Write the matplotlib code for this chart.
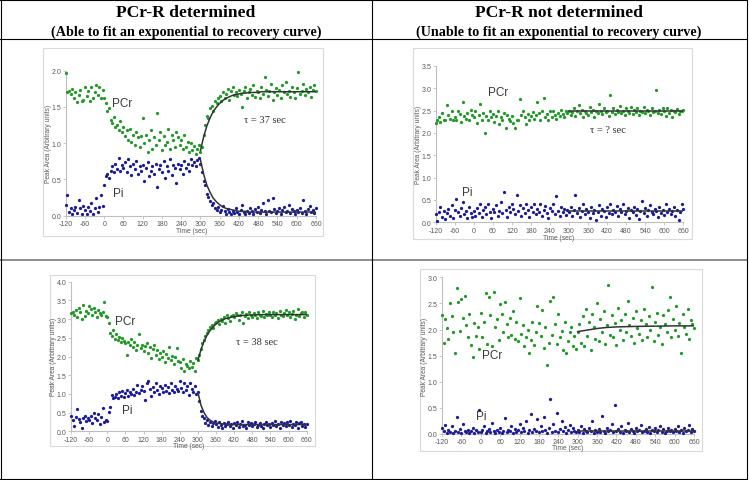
import numpy as np
import matplotlib
matplotlib.use("Agg")
import matplotlib.pyplot as plt
from matplotlib.lines import Line2D
from matplotlib.patches import Rectangle

plt.rcParams["axes.unicode_minus"] = False

# sample times (sec), one reading every 5 s
t = np.arange(-120, 661, 5)
xticks = list(range(-120, 661, 60))

# ---- top left: PCr-R determined, tau = 37 sec
tl_pcr = [1.97, 1.70, 1.72, 1.68, 1.75, 1.62, 1.70, 1.57, 1.66, 1.73, 1.58, 1.60,
          1.78, 1.65, 1.72, 1.58, 1.77, 1.62, 1.70, 1.80, 1.66, 1.78, 1.62, 1.74,
          1.62, 1.55, 1.45, 1.48, 1.32, 1.28, 1.36, 1.22, 1.25, 1.18, 1.30, 1.15,
          1.22, 1.10, 1.18, 1.05, 1.20, 1.02, 1.12, 0.98, 1.15, 1.08, 0.95, 1.10,
          1.35, 1.00, 1.12, 0.88, 1.05, 1.18, 0.92, 1.08, 0.98, 1.42, 1.05, 1.15,
          0.90, 1.10, 0.98, 1.02, 1.20, 0.92, 1.12, 1.05, 0.95, 1.15, 1.08, 0.98,
          1.05, 0.92, 1.12, 0.95, 1.02, 0.88, 1.00, 0.90, 0.96, 0.85, 0.92, 0.98,
          0.88, 0.95, 1.12, 1.25, 1.38, 1.35, 1.48, 1.52, 1.45, 1.58, 1.55, 1.62,
          1.65, 1.58, 1.70, 1.62, 1.68, 1.75, 1.60, 1.72, 1.78, 1.66, 1.70, 1.65,
          1.74, 1.68, 1.50, 1.72, 1.78, 1.62, 1.70, 1.75, 1.66, 1.80, 1.64, 1.72,
          1.70, 1.62, 1.78, 1.68, 1.92, 1.74, 1.65, 1.72, 1.82, 1.60, 1.70, 1.76,
          1.66, 1.74, 1.62, 1.80, 1.70, 1.85, 1.68, 1.72, 1.64, 1.78, 1.70, 1.62,
          1.76, 1.98, 1.68, 1.72, 1.82, 1.66, 1.75, 1.70, 1.78, 1.64, 1.73, 1.80,
          1.72]
tl_pi = [0.15, 0.28, 0.05, 0.10, 0.02, 0.08, 0.12, 0.04, 0.22, 0.10, 0.03, 0.14,
         0.08, 0.02, 0.12, 0.06, 0.18, 0.03, 0.10, 0.25, 0.05, 0.12, 0.28, 0.14,
         0.42, 0.55, 0.58, 0.52, 0.62, 0.68, 0.60, 0.72, 0.65, 0.80, 0.62, 0.70,
         0.66, 0.74, 0.60, 0.78, 0.68, 0.56, 0.72, 0.64, 0.76, 0.58, 0.68, 0.62,
         0.70, 0.48, 0.66, 0.74, 0.55, 0.62, 0.68, 0.58, 0.72, 0.40, 0.64, 0.70,
         0.60, 0.76, 0.52, 0.68, 0.62, 0.78, 0.56, 0.70, 0.66, 0.45, 0.72, 0.64,
         0.70, 0.58, 0.76, 0.66, 0.72, 0.62, 0.78, 0.70, 0.74, 0.68, 0.77, 0.80,
         0.72, 0.60, 0.48, 0.42, 0.30, 0.26, 0.20, 0.15, 0.18, 0.10, 0.08, 0.12,
         0.05, 0.08, 0.14, 0.06, 0.03, 0.09, 0.05, 0.02, 0.07, 0.04, 0.10, 0.05,
         0.03, 0.08, 0.15, 0.05, 0.02, 0.07, 0.04, 0.10, 0.06, 0.03, 0.09, 0.05,
         0.12, 0.04, 0.08, 0.18, 0.06, 0.03, 0.22, 0.07, 0.05, 0.24, 0.09, 0.04,
         0.06, 0.10, 0.03, 0.08, 0.12, 0.05, 0.07, 0.15, 0.04, 0.09, 0.06, 0.02,
         0.08, 0.05, 0.11, 0.04, 0.22, 0.07, 0.03, 0.09, 0.14, 0.05, 0.08, 0.04,
         0.10]

# fitted recovery curves, read every 10 s from 300 to 660
fit_t = list(range(300, 661, 10))
tl_pcr_fit = [0.90, 1.09, 1.24, 1.35, 1.44, 1.50, 1.55, 1.59, 1.62, 1.64, 1.66, 1.67,
              1.68, 1.69, 1.69, 1.70, 1.70, 1.70, 1.70] + [1.71] * 18
tl_pi_fit = [0.77, 0.57, 0.42, 0.32, 0.24, 0.19, 0.15, 0.12, 0.10, 0.09, 0.08, 0.07,
             0.06, 0.06, 0.06] + [0.05] * 22

# ---- top right: PCr-R not determined
tr_pcr = [2.22, 2.28, 2.35, 2.25, 2.45, 2.30, 2.28, 2.62, 2.40, 2.32, 2.50, 2.28,
          2.35, 2.30, 2.48, 2.42, 2.25, 2.70, 2.38, 2.32, 2.45, 2.28, 2.52, 2.40,
          2.35, 2.48, 2.22, 2.40, 2.65, 2.30, 2.45, 2.00, 2.38, 2.28, 2.50, 2.35,
          2.42, 2.25, 2.38, 2.48, 2.20, 2.36, 2.30, 2.45, 2.12, 2.40, 2.32, 2.26,
          2.38, 2.22, 2.10, 2.30, 2.28, 2.75, 2.40, 2.48, 2.35, 2.20, 2.42, 2.30,
          2.38, 2.46, 2.32, 2.40, 2.70, 2.45, 2.28, 2.50, 2.78, 2.36, 2.42, 2.30,
          2.48, 2.35, 2.50, 2.40, 2.32, 2.45, 2.38, 2.52, 2.42, 2.36, 2.48, 2.44,
          2.50, 2.40, 2.46, 2.55, 2.38, 2.48, 2.62, 2.44, 2.52, 2.36, 2.50, 2.45,
          2.40, 2.58, 2.46, 2.52, 2.35, 2.50, 2.44, 2.65, 2.48, 2.42, 2.55, 2.46,
          2.50, 2.38, 2.84, 2.47, 2.55, 2.42, 2.52, 2.46, 2.60, 2.44, 2.50, 2.40,
          2.56, 2.48, 2.45, 2.58, 2.42, 2.52, 2.46, 2.55, 2.40, 2.50, 2.47, 2.58,
          2.44, 2.52, 2.48, 2.40, 2.56, 2.46, 2.50, 2.97, 2.45, 2.52, 2.42, 2.55,
          2.48, 2.38, 2.56, 2.44, 2.52, 2.35, 2.50, 2.46, 2.54, 2.42, 2.50, 2.48,
          2.52]
tr_pi = [0.18, 0.02, 0.22, 0.35, 0.12, 0.25, 0.08, 0.20, 0.30, 0.15, 0.38, 0.10,
         0.28, 0.52, 0.22, 0.14, 0.32, 0.45, 0.18, 0.26, 0.10, 0.35, 0.20, 0.12,
         0.25, 0.15, 0.32, 0.20, 0.40, 0.12, 0.28, 0.35, 0.18, 0.42, 0.22, 0.10,
         0.30, 0.24, 0.38, 0.15, 0.26, 0.45, 0.20, 0.68, 0.28, 0.12, 0.35, 0.22,
         0.42, 0.30, 0.18, 0.60, 0.25, 0.38, 0.15, 0.32, 0.20, 0.42, 0.28, 0.12,
         0.35, 0.24, 0.40, 0.18, 0.30, 0.22, 0.42, 0.15, 0.28, 0.36, 0.20, 0.10,
         0.32, 0.25, 0.40, 0.18, 0.58, 0.26, 0.14, 0.35, 0.22, 0.30, 0.16, 0.28,
         0.22, 0.35, 0.15, 0.28, 0.62, 0.20, 0.32, 0.12, 0.26, 0.40, 0.18, 0.30,
         0.24, 0.10, 0.35, 0.20, 0.28, 0.06, 0.22, 0.38, 0.15, 0.30, 0.25, 0.12,
         0.34, 0.20, 0.42, 0.18, 0.28, 0.22, 0.36, 0.14, 0.30, 0.24, 0.40, 0.18,
         0.26, 0.32, 0.10, 0.28, 0.22, 0.35, 0.16, 0.30, 0.08, 0.25, 0.48, 0.20,
         0.32, 0.14, 0.28, 0.38, 0.22, 0.18, 0.30, 0.25, 0.12, 0.34, 0.20, 0.28,
         0.16, 0.40, 0.24, 0.30, 0.18, 0.26, 0.35, 0.14, 0.28, 0.05, 0.22, 0.42,
         0.30]
tr_fit_t = [300, 660]
tr_pcr_fit = [2.50, 2.50]
tr_pi_fit = [0.25, 0.25]

# ---- bottom left: PCr-R determined, tau = 38 sec
bl_pcr = [3.15, 3.20, 3.10, 3.25, 3.05, 3.30, 3.18, 3.00, 3.38, 3.08, 3.22, 3.15,
          3.35, 3.28, 3.12, 3.30, 3.20, 3.05, 3.25, 3.15, 3.10, 3.20, 3.45, 3.08,
          3.05, 2.90, 2.62, 2.55, 2.70, 2.48, 2.60, 2.45, 2.52, 2.38, 2.50, 2.42,
          2.35, 2.05, 2.40, 2.30, 2.48, 2.25, 2.38, 2.18, 2.32, 2.60, 2.22, 2.30,
          2.15, 2.28, 2.35, 2.10, 2.25, 1.95, 2.20, 2.32, 2.05, 2.18, 1.92, 2.10,
          2.00, 2.15, 1.85, 2.08, 1.95, 2.25, 1.90, 2.02, 1.80, 1.98, 2.22, 1.88,
          1.85, 1.70, 1.92, 1.62, 1.80, 1.75, 1.68, 1.88, 1.72, 1.82, 1.60, 1.95,
          1.90, 2.05, 2.20, 2.35, 2.45, 2.55, 2.62, 2.70, 2.78, 2.85, 2.75, 2.90,
          2.92, 2.98, 2.88, 3.00, 2.95, 3.05, 2.90, 3.10, 3.02, 2.94, 3.08, 3.12,
          3.05, 3.15, 3.10, 2.98, 3.12, 3.18, 2.90, 3.08, 3.14, 3.04, 3.20, 3.10,
          3.06, 3.15, 3.12, 3.02, 3.18, 3.10, 3.08, 3.22, 3.05, 3.14, 3.10, 3.18,
          3.12, 3.06, 3.20, 3.10, 3.15, 3.04, 3.22, 3.12, 3.08, 3.16, 3.25, 3.10,
          3.18, 3.05, 3.14, 3.22, 3.00, 3.12, 3.28, 3.08, 3.15, 3.20, 3.05, 3.18,
          3.12]
bl_pi = [0.40, 0.30, 0.15, 0.38, 0.60, 0.32, 0.25, 0.10, 0.35, 0.42, 0.28, 0.36,
         0.30, 0.40, 0.22, 0.48, 0.35, 0.30, 0.45, 0.20, 0.38, 0.62, 0.25, 0.30,
         0.28, 0.52, 0.65, 0.98, 0.88, 0.92, 1.00, 0.90, 1.05, 0.95, 1.08, 0.92,
         1.02, 1.10, 0.95, 1.06, 1.00, 1.12, 0.98, 1.05, 1.25, 1.02, 1.10, 1.20,
         1.08, 0.85, 1.30, 1.35, 1.12, 0.95, 1.18, 1.05, 1.28, 1.10, 1.00, 1.22,
         1.15, 1.05, 1.25, 1.08, 1.18, 1.02, 1.30, 1.10, 1.05, 1.22, 1.12, 1.08,
         1.35, 1.15, 1.05, 1.28, 1.10, 1.20, 0.98, 1.30, 1.12, 1.05, 1.22, 1.00,
         1.05, 0.80, 0.55, 0.42, 0.35, 0.22, 0.30, 0.18, 0.25, 0.15, 0.22, 0.28,
         0.20, 0.12, 0.25, 0.18, 0.10, 0.22, 0.15, 0.20, 0.26, 0.14, 0.19, 0.08,
         0.22, 0.16, 0.25, 0.12, 0.20, 0.28, 0.15, 0.18, 0.10, 0.24, 0.17, 0.21,
         0.14, 0.20, 0.26, 0.12, 0.18, 0.22, 0.15, 0.08, 0.20, 0.25, 0.16, 0.19,
         0.12, 0.22, 0.18, 0.27, 0.14, 0.20, 0.10, 0.24, 0.17, 0.21, 0.13, 0.25,
         0.18, 0.28, 0.12, 0.20, 0.16, 0.24, 0.10, 0.22, 0.26, 0.15, 0.19, 0.12,
         0.20]
bl_pcr_fit = [1.90, 2.18, 2.40, 2.57, 2.69, 2.79, 2.87, 2.93, 2.97, 3.01, 3.03, 3.05,
              3.07, 3.08, 3.09, 3.10, 3.10, 3.11, 3.11, 3.11] + [3.12] * 17
bl_pi_fit = [1.04, 0.70, 0.50, 0.37, 0.30, 0.25, 0.22, 0.21, 0.20, 0.19, 0.19] + [0.18] * 26

# ---- bottom right: PCr-R not determined
br_pcr = [2.28, 1.75, 2.20, 2.02, 1.82, 2.50, 2.25, 1.95, 1.55, 2.80, 2.52, 1.98,
          2.58, 2.22, 2.65, 2.08, 1.85, 2.30, 1.70, 1.48, 2.12, 1.88, 2.05, 1.62,
          2.32, 1.85, 2.15, 2.70, 1.72, 2.62, 2.28, 1.68, 2.72, 2.05, 2.20, 1.80,
          2.48, 2.30, 1.95, 2.52, 2.10, 1.85, 2.22, 1.90, 2.35, 1.82, 2.15, 1.78,
          2.60, 1.92, 2.08, 1.68, 1.85, 2.00, 1.55, 1.80, 2.15, 1.70, 1.95, 2.45,
          2.12, 1.88, 2.38, 1.65, 2.05, 1.32, 1.75, 2.55, 1.90, 2.62, 2.10, 1.72,
          2.30, 1.85, 1.98, 1.60, 2.15, 1.55, 1.78, 1.95, 2.05, 1.68, 1.88, 1.62,
          1.95, 2.10, 1.75, 2.25, 1.68, 2.40, 1.88, 2.15, 1.60, 2.30, 2.05, 1.82,
          2.50, 1.78, 2.20, 1.95, 2.35, 1.72, 2.08, 2.85, 1.90, 2.28, 1.85, 2.12,
          1.70, 2.42, 2.00, 2.18, 1.80, 2.30, 1.95, 2.55, 2.08, 1.88, 2.22, 1.75,
          2.35, 2.02, 1.92, 2.18, 1.80, 2.40, 2.10, 1.85, 2.25, 2.00, 2.82, 1.78,
          2.15, 2.32, 1.90, 2.05, 1.72, 2.28, 2.10, 1.95, 2.38, 2.62, 1.85, 2.20,
          2.00, 2.45, 1.88, 2.12, 1.55, 2.30, 2.05, 1.92, 2.40, 1.82, 2.18, 2.10,
          2.02]
br_pi = [0.12, 0.05, 0.18, 0.02, 0.08, 0.03, 0.15, 0.01, 0.05, 0.32, 0.04, 0.10,
         0.02, 0.20, 0.06, 0.03, 0.08, 0.01, 0.05, 0.12, 0.02, 0.07, 0.04, 0.45,
         0.03, 0.08, 0.15, 0.02, 0.05, 0.10, 0.03, 0.22, 0.06, 0.01, 0.08, 0.04,
         0.12, 0.02, 0.06, 0.30, 0.03, 0.08, 0.05, 0.15, 0.02, 0.10, 0.04, 0.07,
         0.20, 0.03, 0.12, 0.05, 0.25, 0.02, 0.08, 0.38, 0.04, 0.10, 0.06, 0.28,
         0.03, 0.15, 0.05, 0.32, 0.08, 0.02, 0.12, 0.67, 0.04, 0.20, 0.06, 0.40,
         0.03, 0.10, 0.25, 0.05, 0.14, 0.02, 0.08, 0.18, 0.04, 0.12, 0.06, 0.03,
         0.08, 0.04, 0.15, 0.02, 0.10, 0.05, 0.03, 0.12, 0.06, 0.25, 0.02, 0.08,
         0.04, 0.10, 0.03, 0.35, 0.06, 0.02, 0.12, 0.05, 0.08, 0.20, 0.03, 0.55,
         0.06, 0.10, 0.04, 0.15, 0.02, 0.08, 0.05, 0.22, 0.03, 0.10, 0.06, 0.02,
         0.12, 0.05, 0.08, 0.18, 0.03, 0.06, 0.10, 0.04, 0.14, 0.02, 0.08, 0.05,
         0.11, 0.03, 0.07, 0.16, 0.04, 0.09, 0.02, 0.06, 0.12, 0.05, 0.08, 0.03,
         0.10, 0.06, 0.15, 0.04, 0.08, 0.02, 0.12, 0.05, 0.07, 0.18, 0.03, 0.09,
         0.06]
br_fit_t = [300, 330, 360, 390, 420, 480, 540, 600, 660]
br_pcr_fit = [1.96, 1.99, 2.02, 2.04, 2.05, 2.06, 2.065, 2.07, 2.07]
br_pi_fit = [0.06, 0.06, 0.06, 0.06, 0.06, 0.06, 0.06, 0.06, 0.06]

titles = ["PCr-R determined", "PCr-R not determined"]
subtitles = ["(Able to fit an exponential to recovery curve)",
             "(Unable to fit an exponential to recovery curve)"]

W, H = 750, 481
GREEN = "#23992a"
BLUE = "#1c1c98"
GRAY = "#595959"


def fx(x):
    return x / W


def fy(y):
    return 1 - y / H


fig = plt.figure(figsize=(7.5, 4.81), dpi=100)

# table grid
def hline(y, x0, x1, color="black", lw=0.8):
    fig.add_artist(Line2D([fx(x0), fx(x1)], [fy(y), fy(y)], color=color, lw=lw,
                          transform=fig.transFigure))


def vline(x, y0, y1, color="black", lw=0.8):
    fig.add_artist(Line2D([fx(x), fx(x)], [fy(y0), fy(y1)], color=color, lw=lw,
                          transform=fig.transFigure))


hline(0.5, 0, 747)
hline(40, 0, 747)
hline(261, 0, 747, color="#8c8c8c", lw=1.4)
hline(479.5, 0, 747)
vline(0.5, 0, 480)
vline(372, 0, 480)
vline(746.5, 0, 480)

for cx, ti, st in zip([186, 559], titles, subtitles):
    fig.text(fx(cx), fy(13), ti, ha="center", va="center", fontsize=12.6,
             fontweight="bold", family="Liberation Serif")
    fig.text(fx(cx), fy(32.5), st, ha="center", va="center", fontsize=10.2,
             fontweight="bold", family="Liberation Serif")


def panel(box, frame, ylim, pcr, pi, ft, pcr_fit, pi_fit, pcr_xy, pi_xy, tau_xy, tau_txt):
    l, r, b, tp = box
    ax = fig.add_axes([fx(l), fy(b), fx(r) - fx(l), fy(tp) - fy(b)])
    fl, ftop, fr, fb = frame
    fig.add_artist(Rectangle((fx(fl), fy(fb)), fx(fr) - fx(fl), fy(ftop) - fy(fb),
                             fill=False, ec="#d9d9d9", lw=0.8, transform=fig.transFigure))
    ax.scatter(t, pcr, s=5.5, marker="o", color=GREEN, linewidths=0, clip_on=False, zorder=3)
    ax.scatter(t, pi, s=5.5, marker="o", color=BLUE, linewidths=0, clip_on=False, zorder=3)
    ax.plot(ft, pcr_fit, color="#333333", lw=1.1, zorder=4)
    ax.plot(ft, pi_fit, color="#333333", lw=1.1, zorder=4)
    ax.set_xlim(-120, 660)
    ax.set_ylim(0, ylim)
    ax.set_xticks(xticks)
    ax.set_yticks(np.arange(0, ylim + 0.01, 0.5))
    ax.set_yticklabels(["%.1f" % v for v in np.arange(0, ylim + 0.01, 0.5)])
    for s in ["top", "right"]:
        ax.spines[s].set_visible(False)
    for s in ["left", "bottom"]:
        ax.spines[s].set_color("#bfbfbf")
        ax.spines[s].set_linewidth(0.8)
    ax.tick_params(length=2, width=0.6, color="#bfbfbf", labelsize=5, labelcolor=GRAY, pad=1.2)
    for lab in ax.get_xticklabels() + ax.get_yticklabels():
        lab.set_family("Liberation Sans")
    ax.text(*pcr_xy, "PCr", fontsize=8.5, color="#3a3a3a", family="Liberation Sans",
            ha="center", va="center")
    ax.text(*pi_xy, "Pi", fontsize=8.5, color="#3a3a3a", family="Liberation Sans",
            ha="center", va="center")
    if tau_txt:
        ax.text(*tau_xy, tau_txt, fontsize=7.6, color="#333333",
                family=["Liberation Serif", "DejaVu Serif"], ha="center", va="center")
    ax.patch.set_alpha(0)
    return ax


panel((65.7, 316, 216.7, 71.7), (43, 49, 323, 237), 2.0, tl_pcr, tl_pi,
      fit_t, tl_pcr_fit, tl_pi_fit, (55, 1.55), (44, 0.31), (501, 1.33), "τ = 37 sec")
panel((435.7, 683.3, 223.3, 66.9), (413, 49, 692, 240), 3.5, tr_pcr, tr_pi,
      tr_fit_t, tr_pcr_fit, tr_pi_fit, (77, 2.91), (-21, 0.68), (423, 2.07), "τ = ? sec")
panel((71, 306.7, 432.3, 282.7), (50, 276, 315, 447), 4.0, bl_pcr, bl_pi,
      fit_t, bl_pcr_fit, bl_pi_fit, (59, 2.94), (65, 0.58), (494, 2.41), "τ = 38 sec")
panel((442, 694, 435, 278.3), (420, 270, 702, 452), 3.0, br_pcr, br_pi,
      br_fit_t, br_pcr_fit, br_pi_fit, (34, 1.52), (1, 0.34), None, "")

# axis titles, placed in pixels like the original chart layout
for x, y in [(191.7, 231.5), (559, 239), (189, 446), (568, 449)]:
    fig.text(fx(x), fy(y), "Time (sec)", ha="center", va="center", fontsize=4.8,
             color=GRAY, family="Liberation Sans")
for x, y in [(49, 144), (418, 145), (54, 357), (425, 357)]:
    fig.text(fx(x), fy(y), "Peak Area (Arbitrary units)", ha="center", va="center",
             fontsize=4.8, rotation=90, color=GRAY, family="Liberation Sans")

fig.savefig("out.png", dpi=100)
